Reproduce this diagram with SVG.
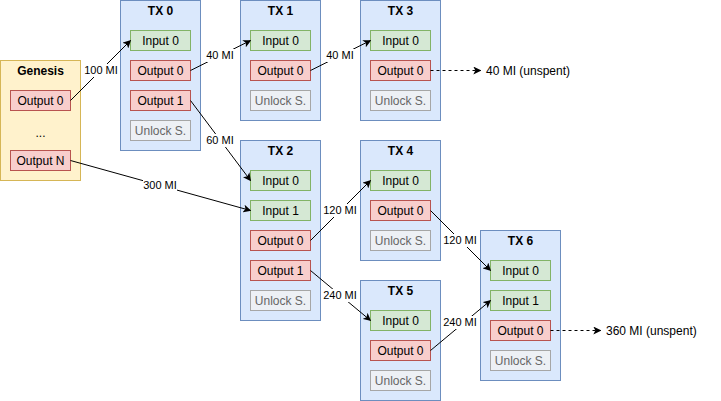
<svg xmlns="http://www.w3.org/2000/svg" width="721" height="401" viewBox="0 0 721 401">
<defs>
<marker id="arr" viewBox="0 0 10 10" refX="9" refY="5" markerWidth="8" markerHeight="8" markerUnits="userSpaceOnUse" orient="auto">
<path d="M0,0 L10,5 L0,10 L2.5,5 Z" fill="#000"/>
</marker>
</defs>
<style>
text{font-family:"Liberation Sans",Arial,sans-serif;font-size:12px;fill:#000;}
.t{font-weight:bold;text-anchor:middle;}
.c{text-anchor:middle;}
.lbl{font-size:11px;text-anchor:middle;}
.lb{fill:#fff;}
.gen{fill:#fff2cc;stroke:#d6b656;}
.tx{fill:#dae8fc;stroke:#6c8ebf;}
.in{fill:#d5e8d4;stroke:#82b366;}
.out{fill:#f8cecc;stroke:#b85450;}
.un{fill:#edf0f5;stroke:#a6a6a6;}
.unt{fill:#666;text-anchor:middle;}
.e{stroke:#000;fill:none;stroke-width:1;}
.d{stroke-dasharray:3 3;}
</style>
<g id="genesis">
<rect class="gen" x="0.5" y="60.5" width="80" height="120"/>
<text class="t" x="40.5" y="75">Genesis</text>
<rect class="out" x="10.5" y="90.5" width="60" height="20"/><text class="c" x="40.5" y="105">Output 0</text>
<text class="c" x="40.5" y="137">...</text>
<rect class="out" x="10.5" y="150.5" width="60" height="20"/><text class="c" x="40.5" y="165">Output N</text>
</g>
<g id="tx0">
<rect class="tx" x="120.5" y="0.5" width="80" height="150"/>
<text class="t" x="160.5" y="15">TX 0</text>
<rect class="in" x="130.5" y="30.5" width="60" height="20"/><text class="c" x="160.5" y="45">Input 0</text>
<rect class="out" x="130.5" y="60.5" width="60" height="20"/><text class="c" x="160.5" y="75">Output 0</text>
<rect class="out" x="130.5" y="90.5" width="60" height="20"/><text class="c" x="160.5" y="105">Output 1</text>
<rect class="un" x="130.5" y="120.5" width="60" height="20"/><text class="unt" x="160.5" y="135">Unlock S.</text>
</g>
<g id="tx1">
<rect class="tx" x="240.5" y="0.5" width="80" height="120"/>
<text class="t" x="280.5" y="15">TX 1</text>
<rect class="in" x="250.5" y="30.5" width="60" height="20"/><text class="c" x="280.5" y="45">Input 0</text>
<rect class="out" x="250.5" y="60.5" width="60" height="20"/><text class="c" x="280.5" y="75">Output 0</text>
<rect class="un" x="250.5" y="90.5" width="60" height="20"/><text class="unt" x="280.5" y="105">Unlock S.</text>
</g>
<g id="tx3">
<rect class="tx" x="360.5" y="0.5" width="80" height="120"/>
<text class="t" x="400.5" y="15">TX 3</text>
<rect class="in" x="370.5" y="30.5" width="60" height="20"/><text class="c" x="400.5" y="45">Input 0</text>
<rect class="out" x="370.5" y="60.5" width="60" height="20"/><text class="c" x="400.5" y="75">Output 0</text>
<rect class="un" x="370.5" y="90.5" width="60" height="20"/><text class="unt" x="400.5" y="105">Unlock S.</text>
</g>
<g id="tx2">
<rect class="tx" x="240.5" y="140.5" width="80" height="180"/>
<text class="t" x="280.5" y="155">TX 2</text>
<rect class="in" x="250.5" y="170.5" width="60" height="20"/><text class="c" x="280.5" y="185">Input 0</text>
<rect class="in" x="250.5" y="200.5" width="60" height="20"/><text class="c" x="280.5" y="215">Input 1</text>
<rect class="out" x="250.5" y="230.5" width="60" height="20"/><text class="c" x="280.5" y="245">Output 0</text>
<rect class="out" x="250.5" y="260.5" width="60" height="20"/><text class="c" x="280.5" y="275">Output 1</text>
<rect class="un" x="250.5" y="290.5" width="60" height="20"/><text class="unt" x="280.5" y="305">Unlock S.</text>
</g>
<g id="tx4">
<rect class="tx" x="360.5" y="140.5" width="80" height="120"/>
<text class="t" x="400.5" y="155">TX 4</text>
<rect class="in" x="370.5" y="170.5" width="60" height="20"/><text class="c" x="400.5" y="185">Input 0</text>
<rect class="out" x="370.5" y="200.5" width="60" height="20"/><text class="c" x="400.5" y="215">Output 0</text>
<rect class="un" x="370.5" y="230.5" width="60" height="20"/><text class="unt" x="400.5" y="245">Unlock S.</text>
</g>
<g id="tx5">
<rect class="tx" x="360.5" y="280.5" width="80" height="120"/>
<text class="t" x="400.5" y="295">TX 5</text>
<rect class="in" x="370.5" y="310.5" width="60" height="20"/><text class="c" x="400.5" y="325">Input 0</text>
<rect class="out" x="370.5" y="340.5" width="60" height="20"/><text class="c" x="400.5" y="355">Output 0</text>
<rect class="un" x="370.5" y="370.5" width="60" height="20"/><text class="unt" x="400.5" y="385">Unlock S.</text>
</g>
<g id="tx6">
<rect class="tx" x="480.5" y="230.5" width="80" height="150"/>
<text class="t" x="520.5" y="245">TX 6</text>
<rect class="in" x="490.5" y="260.5" width="60" height="20"/><text class="c" x="520.5" y="275">Input 0</text>
<rect class="in" x="490.5" y="290.5" width="60" height="20"/><text class="c" x="520.5" y="305">Input 1</text>
<rect class="out" x="490.5" y="320.5" width="60" height="20"/><text class="c" x="520.5" y="335">Output 0</text>
<rect class="un" x="490.5" y="350.5" width="60" height="20"/><text class="unt" x="520.5" y="365">Unlock S.</text>
</g>
<g id="connectors">
<line class="e" x1="70.5" y1="100.5" x2="130.5" y2="40.5" marker-end="url(#arr)"/>
<line class="e" x1="190.5" y1="70.5" x2="250.5" y2="40.5" marker-end="url(#arr)"/>
<line class="e" x1="310.5" y1="70.5" x2="370.5" y2="40.5" marker-end="url(#arr)"/>
<line class="e" x1="190.5" y1="100.5" x2="250.5" y2="180.5" marker-end="url(#arr)"/>
<line class="e" x1="70.5" y1="160.5" x2="250.5" y2="210.5" marker-end="url(#arr)"/>
<line class="e" x1="310.5" y1="240.5" x2="370.5" y2="180.5" marker-end="url(#arr)"/>
<line class="e" x1="310.5" y1="270.5" x2="370.5" y2="320.5" marker-end="url(#arr)"/>
<line class="e" x1="430.5" y1="210.5" x2="490.5" y2="270.5" marker-end="url(#arr)"/>
<line class="e" x1="430.5" y1="350.5" x2="490.5" y2="300.5" marker-end="url(#arr)"/>
<line class="e d" x1="430.5" y1="70.5" x2="480.5" y2="70.5" marker-end="url(#arr)"/>
<line class="e d" x1="550.5" y1="330.5" x2="600.5" y2="330.5" marker-end="url(#arr)"/>
<rect class="lb" x="84" y="64" width="34" height="13"/><text class="lbl" x="101" y="74">100 MI</text>
<rect class="lb" x="206" y="49" width="28" height="13"/><text class="lbl" x="220" y="59">40 MI</text>
<rect class="lb" x="326" y="49" width="28" height="13"/><text class="lbl" x="340" y="59">40 MI</text>
<rect class="lb" x="206" y="134" width="28" height="13"/><text class="lbl" x="220" y="144">60 MI</text>
<rect class="lb" x="143" y="179" width="34" height="13"/><text class="lbl" x="160" y="189">300 MI</text>
<rect class="lb" x="323" y="204" width="34" height="13"/><text class="lbl" x="340" y="214">120 MI</text>
<rect class="lb" x="323" y="289" width="34" height="13"/><text class="lbl" x="340" y="299">240 MI</text>
<rect class="lb" x="443" y="234" width="34" height="13"/><text class="lbl" x="460" y="244">120 MI</text>
<rect class="lb" x="443" y="316" width="34" height="13"/><text class="lbl" x="460" y="326">240 MI</text>
<text x="486" y="75">40 MI (unspent)</text>
<text x="606" y="335">360 MI (unspent)</text>
</g>
</svg>
